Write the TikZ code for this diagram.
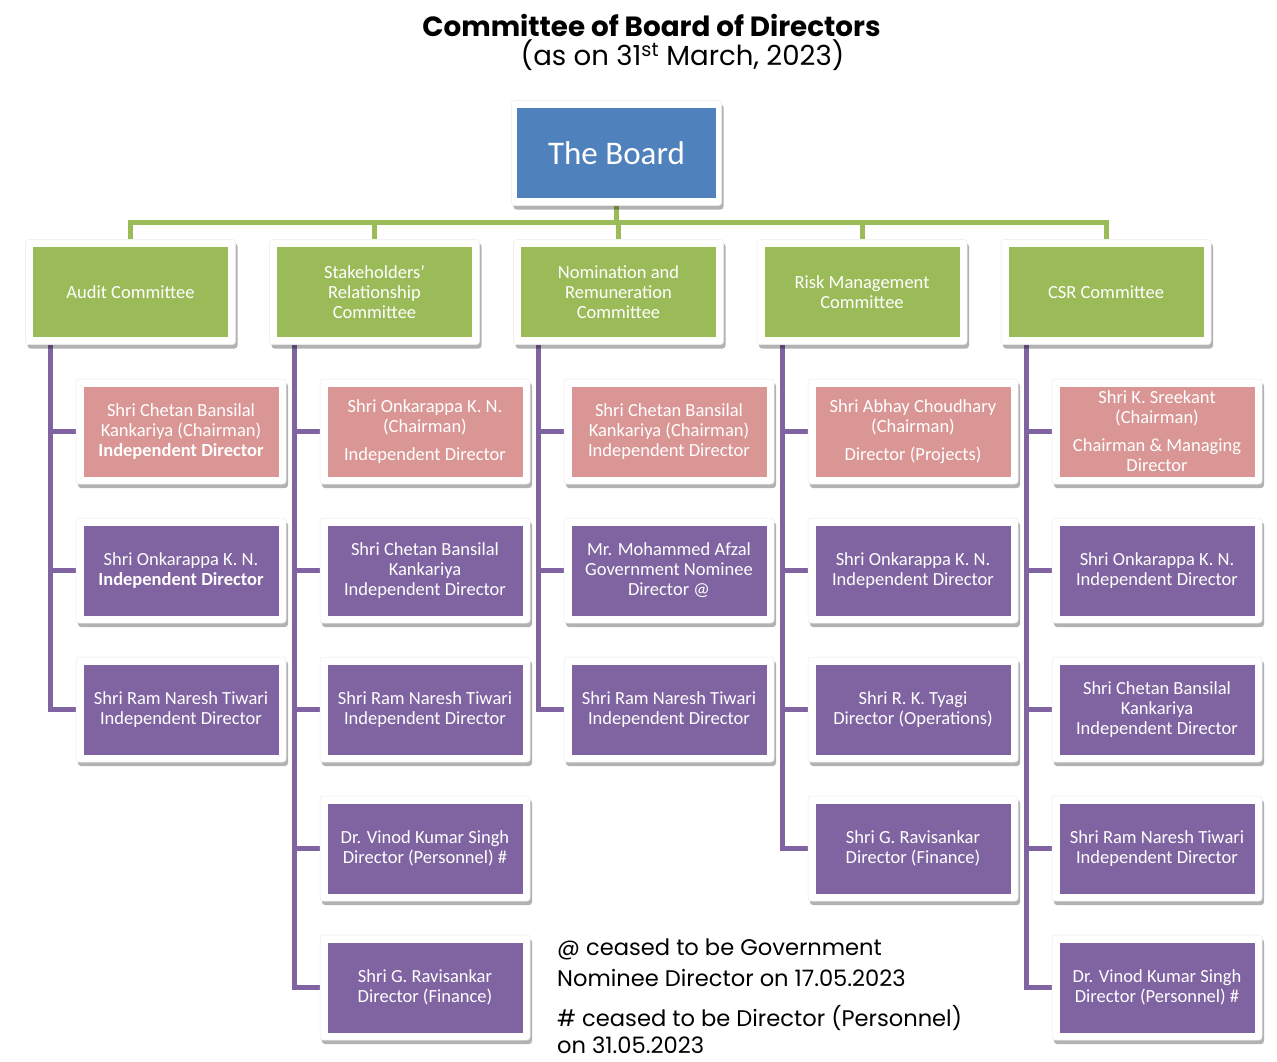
\documentclass[tikz,border=0pt]{standalone}
\usepackage{fontspec}
\setmainfont{Carlito}
\newfontfamily\pop{Poppins}
\usetikzlibrary{shadows,backgrounds}
\definecolor{grn}{HTML}{9BBB59}
\definecolor{pur}{HTML}{8064A2}
\definecolor{pnk}{HTML}{D99694}
\definecolor{blu}{HTML}{4F81BD}
\tikzset{
  frame/.style={rectangle, fill=white, draw=black!8, line width=0.5pt, rounded corners=3pt,
    minimum width=210pt, minimum height=105pt, inner sep=0pt,
    drop shadow={shadow xshift=2pt, shadow yshift=-4pt, fill=black, opacity=0.3}},
  inbox/.style={rectangle, minimum width=195pt, minimum height=90pt, inner sep=0pt,
    align=center, text=white, font={\fontsize{18.5}{20}\selectfont}},
  gline/.style={draw=grn, line width=5pt},
  pline/.style={draw=pur, line width=5pt},
}
\newcommand\orgbox[5]{%
  \node[frame] (#1f) at (#2,#3) {};
  \node[inbox, fill=#4] (#1) at (#2,#3) {#5};
}
\begin{document}
\begin{tikzpicture}[x=1pt,y=-1pt]
\useasboundingbox (0,0) rectangle (1277,1061);

% title
\node[font={\pop\bfseries\fontsize{27.8}{30}\selectfont}] (title) at (651.5,25) {Committee of Board of Directors};
\node[font={\pop\fontsize{27.6}{30}\selectfont}] (subtitle) at (682.5,55) {(as on 31\textsuperscript{st} March, 2023)};

% board
\node[frame] (boardf) at (616.5,153) {};
\node[inbox, fill=blu, minimum width=199pt, font={\fontsize{33}{36}\selectfont}] (board) at (616.5,153) {The Board};

% committees
\orgbox{c1}{130.5}{292}{grn}{Audit Committee}
\orgbox{c2}{374.5}{292}{grn}{Stakeholders’\\Relationship\\Committee}
\orgbox{c3}{618.5}{292}{grn}{Nomination and\\Remuneration\\Committee}
\orgbox{c4}{862}{292}{grn}{Risk Management\\Committee}
\orgbox{c5}{1106}{292}{grn}{CSR Committee}

% column 1
\orgbox{m11}{181}{431.5}{pnk}{Shri Chetan Bansilal\\Kankariya (Chairman)\\\textbf{Independent Director}}
\orgbox{m12}{181}{570.5}{pur}{Shri Onkarappa K. N.\\\textbf{Independent Director}}
\orgbox{m13}{181}{709.5}{pur}{Shri Ram Naresh Tiwari\\Independent Director}
% column 2
\orgbox{m21}{425}{431.5}{pnk}{Shri Onkarappa K. N.\\(Chairman)\\[8pt]Independent Director}
\orgbox{m22}{425}{570.5}{pur}{Shri Chetan Bansilal\\Kankariya\\Independent Director}
\orgbox{m23}{425}{709.5}{pur}{Shri Ram Naresh Tiwari\\Independent Director}
\orgbox{m24}{425}{848.5}{pur}{Dr. Vinod Kumar Singh\\Director (Personnel) \#}
\orgbox{m25}{425}{987.5}{pur}{Shri G. Ravisankar\\Director (Finance)}
% column 3
\orgbox{m31}{669}{431.5}{pnk}{Shri Chetan Bansilal\\Kankariya (Chairman)\\Independent Director}
\orgbox{m32}{669}{570.5}{pur}{Mr. Mohammed Afzal\\Government Nominee\\Director @}
\orgbox{m33}{669}{709.5}{pur}{Shri Ram Naresh Tiwari\\Independent Director}
% column 4
\orgbox{m41}{913}{431.5}{pnk}{Shri Abhay Choudhary\\(Chairman)\\[8pt]Director (Projects)}
\orgbox{m42}{913}{570.5}{pur}{Shri Onkarappa K. N.\\Independent Director}
\orgbox{m43}{913}{709.5}{pur}{Shri R. K. Tyagi\\Director (Operations)}
\orgbox{m44}{913}{848.5}{pur}{Shri G. Ravisankar\\Director (Finance)}
% column 5
\orgbox{m51}{1157}{431.5}{pnk}{Shri K. Sreekant\\(Chairman)\\[8pt]Chairman \& Managing\\Director}
\orgbox{m52}{1157}{570.5}{pur}{Shri Onkarappa K. N.\\Independent Director}
\orgbox{m53}{1157}{709.5}{pur}{Shri Chetan Bansilal\\Kankariya\\Independent Director}
\orgbox{m54}{1157}{848.5}{pur}{Shri Ram Naresh Tiwari\\Independent Director}
\orgbox{m55}{1157}{987.5}{pur}{Dr. Vinod Kumar Singh\\Director (Personnel) \#}

% footnotes
\node[anchor=north west, align=left, inner sep=0pt, font={\pop\fontsize{22.6}{31}\selectfont}] (notes) at (557,939)
  {@ ceased to be Government\\Nominee Director on 17.05.2023\\[9pt]\# ceased to be Director (Personnel)\\[-4pt]on 31.05.2023};

\begin{scope}[on background layer]
  \fill[white] (0,0) rectangle (1277,1061);
  \coordinate (bus) at (616.5,222);
  \draw[gline] (boardf.south) -- (bus);
  \draw[gline] (c1f.north) |- (bus) -| (c5f.north);
  \foreach \c in {c2,c3,c4} \draw[gline] (\c f.north) -- (\c f.north |- bus);
  \coordinate (s1) at (50.5,345);
  \coordinate (s2) at (294.5,345);
  \coordinate (s3) at (538.5,345);
  \coordinate (s4) at (782,345);
  \coordinate (s5) at (1026,345);
  \foreach \r in {1,2,3} \draw[pline] (s1) |- (m1\r f.west);
  \foreach \r in {1,2,3,4,5} \draw[pline] (s2) |- (m2\r f.west);
  \foreach \r in {1,2,3} \draw[pline] (s3) |- (m3\r f.west);
  \foreach \r in {1,2,3,4} \draw[pline] (s4) |- (m4\r f.west);
  \foreach \r in {1,2,3,4,5} \draw[pline] (s5) |- (m5\r f.west);
\end{scope}
\end{tikzpicture}
\end{document}
